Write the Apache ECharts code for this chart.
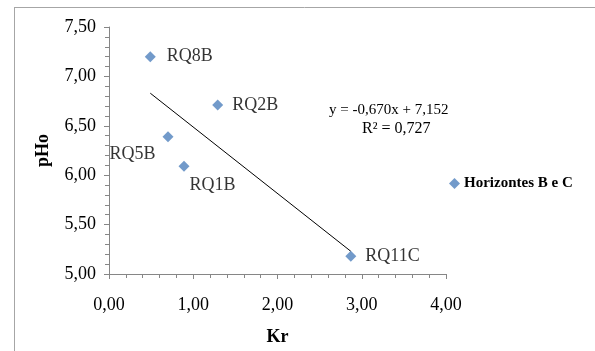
<!DOCTYPE html>
<html><head><meta charset="utf-8">
<script src="https://cdn.jsdelivr.net/npm/echarts@6/dist/echarts.min.js"></script>
<style>html,body{margin:0;padding:0;background:#fff}#c{width:595px;height:351px}</style>
</head><body><div id="c"></div>
<script>
const names = ['RQ8B','RQ2B','RQ5B','RQ1B','RQ11C'];
const krValues = [0.49, 1.29, 0.70, 0.89, 2.87];
const phoValues = [7.20, 6.71, 6.39, 6.09, 5.18];
const trendX = [0.49, 2.87];
const trendY = [6.83, 5.23];
const xTicks = ['0,00','1,00','2,00','3,00','4,00'];
const yTicks = ['5,00','5,50','6,00','6,50','7,00','7,50'];
const seriesName = 'Horizontes B e C';
const equationText = 'y = -0,670x + 7,152';
const r2Text = 'R² = 0,727';

const FONT = '"Liberation Serif","Times New Roman",serif';
const labelPos = {
  'RQ8B': {position:'right', distance: 11, offset:[0,0]},
  'RQ2B': {position:'right', distance: 9, offset:[0,0]},
  'RQ5B': {position:'left', distance: 7, offset:[0,18]},
  'RQ1B': {position:'right', distance: 0, offset:[0,19]},
  'RQ11C': {position:'right', distance: 9, offset:[0,0]}
};
const pts = names.map((n,i)=>({value:[krValues[i], phoValues[i]], name:n,
  label:Object.assign({show:true, formatter:n}, labelPos[n])}));

const chart = echarts.init(document.getElementById('c'), null, {renderer:'canvas'});
chart.setOption({
  animation:false,
  backgroundColor:'#fff',
  grid:{left:109, right:149, top:27, bottom:71},
  xAxis:{type:'value', min:0, max:4, interval:1, name:'Kr', nameLocation:'middle', nameGap:54,
    nameTextStyle:{fontFamily:FONT, fontWeight:'bold', fontSize:18, color:'#000'},
    axisLine:{lineStyle:{color:'#868686', width:1}},
    axisTick:{show:true, length:5, lineStyle:{color:'#868686'}},
    minorTick:{show:true, splitNumber:5, length:4, lineStyle:{color:'#868686'}},
    splitLine:{show:false},
    axisLabel:{fontFamily:FONT, fontSize:18, color:'#000', margin:22,
      formatter:(v)=>xTicks[Math.round(v)]}},
  yAxis:{type:'value', min:5, max:7.5, interval:0.5, name:'pHo', nameLocation:'middle', nameGap:57,
    nameTextStyle:{fontFamily:FONT, fontWeight:'bold', fontSize:18, color:'#000'},
    axisLine:{show:true, lineStyle:{color:'#868686', width:1}},
    axisTick:{show:true, length:5, lineStyle:{color:'#868686'}},
    minorTick:{show:true, splitNumber:5, length:4, lineStyle:{color:'#868686'}},
    splitLine:{show:false},
    axisLabel:{fontFamily:FONT, fontSize:18, color:'#000', margin:13,
      formatter:(v)=>yTicks[Math.round((v-5)/0.5)]}},
  legend:{left:444, top:171, data:[{name:seriesName, icon:'diamond'}], itemWidth:11, itemHeight:11, itemGap:4,
    textStyle:{fontFamily:FONT, fontWeight:'bold', fontSize:15, color:'#000', padding:[0,0,0,-1]}},
  series:[
    {name:'trend', type:'line', data:trendX.map((x,i)=>[x,trendY[i]]), symbol:'none',
      lineStyle:{color:'#000', width:1}, silent:true, z:1},
    {name:seriesName, type:'scatter', data:pts, symbol:'diamond', symbolSize:11,
      itemStyle:{color:'#4F81BD'}, z:3,
      label:{fontFamily:FONT, fontSize:18, color:'#000'}}
  ],
  graphic:[
    {type:'line', shape:{x1:14.5, y1:7, x2:14.5, y2:351}, style:{stroke:'#a6a6a6', lineWidth:1}},
    {type:'line', shape:{x1:14, y1:7.5, x2:595, y2:7.5}, style:{stroke:'#a6a6a6', lineWidth:1}},
    {type:'text', left:329, top:103, style:{text:equationText, font:'15px '+FONT, fill:'#000'}},
    {type:'text', left:362, top:121, style:{text:r2Text, font:'16px '+FONT, fill:'#000'}}
  ]
});
</script></body></html>
